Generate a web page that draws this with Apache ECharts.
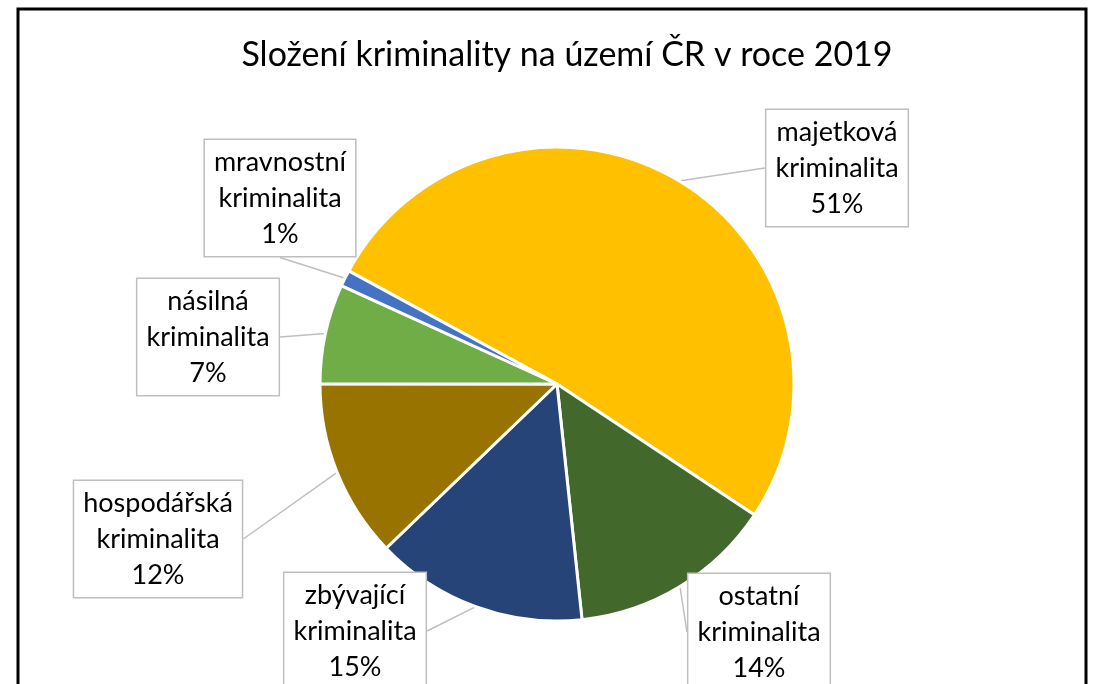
<!DOCTYPE html>
<html>
<head>
    <meta charset="utf-8">
    <title>Složení kriminality</title>
    <script src="https://cdn.jsdelivr.net/npm/echarts@6/dist/echarts.min.js"></script>
    <style>
        body { margin: 0; background: #fff; }
    </style>
</head>
<body>
<div id="chart" style="width: 1094px; height: 684px;"></div>
<script>
    // data (percent shares)
    var categories = ['majetková kriminalita', 'ostatní kriminalita', 'zbývající kriminalita',
        'hospodářská kriminalita', 'násilná kriminalita', 'mravnostní kriminalita'];
    var shares = [51.4, 14.0, 14.5, 12.2, 6.8, 1.1];
    var colors = ['#FFC000', '#43682B', '#264478', '#997300', '#70AD47', '#4472C4'];

    // where each callout box sits (centre of the box)
    var labelPos = [[837, 168], [759, 632], [355, 631], [158, 539], [208, 337], [280, 198]];

    var myChart = echarts.init(document.getElementById('chart'));

    var option = {
        animation: false,
        title: {
            text: 'Složení kriminality na území ČR v roce 2019',
            left: 562,
            top: 33,
            textAlign: 'center',
            textStyle: {
                fontFamily: 'Lato',
                fontSize: 34,
                fontWeight: 'normal',
                color: '#000'
            }
        },
        graphic: [{
            type: 'rect',
            shape: { x: 18, y: 9, width: 1068, height: 720 },
            style: { fill: 'none', stroke: '#000', lineWidth: 3 },
            silent: true
        }],
        series: [{
            type: 'pie',
            center: [557, 384],
            radius: 237,
            startAngle: 151.5,
            clockwise: true,
            color: colors,
            itemStyle: { borderColor: '#fff', borderWidth: 3 },
            emphasis: { disabled: true },
            data: categories.map(function (c, i) {
                return { name: c, value: shares[i] };
            }),
            label: {
                show: true,
                formatter: function (p) {
                    return p.name.replace(' ', '\n') + '\n' + Math.round(p.percent) + '%';
                },
                fontFamily: 'Lato',
                fontSize: 27,
                lineHeight: 36,
                color: '#000',
                align: 'center',
                backgroundColor: '#fff',
                borderColor: '#BFBFBF',
                borderWidth: 1.5,
                padding: [4, 9]
            },
            labelLine: {
                show: true,
                length: 4,
                length2: 0,
                lineStyle: { color: '#BFBFBF', width: 1.5 }
            },
            labelLayout: function (params) {
                var p = labelPos[params.dataIndex];
                return { x: p[0], y: p[1], align: 'center', verticalAlign: 'middle' };
            }
        }]
    };

    myChart.setOption(option);
</script>
</body>
</html>
